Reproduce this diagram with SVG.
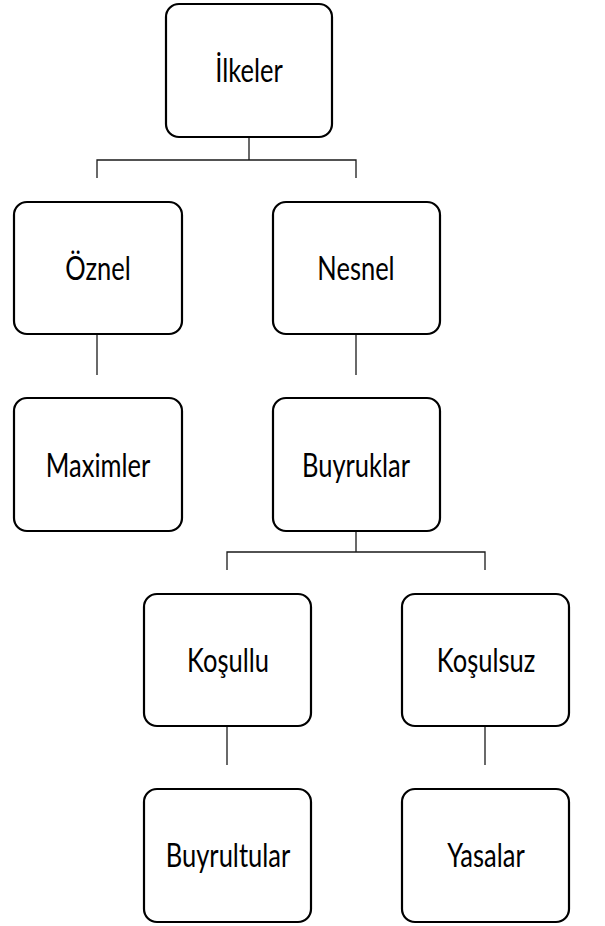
<svg xmlns="http://www.w3.org/2000/svg" width="605" height="926" viewBox="0 0 605 926">
<style>
.box{fill:#fff;stroke:#000;stroke-width:2.2}
.lbl{font-family:Lato,"Open Sans","Liberation Sans",sans-serif;font-size:25.5px;fill:#000;text-anchor:middle}
.con{fill:none;stroke:#1a1a1a;stroke-width:1.3}
</style>
<rect width="605" height="926" fill="#fff"/>
<g id="connectors">
<path class="con" d="M249 137V160M97 178V160H356V178"/>
<path class="con" d="M97 334V375"/>
<path class="con" d="M356 334V375"/>
<path class="con" d="M356 531V552M227 570V552H485V570"/>
<path class="con" d="M227 726V765"/>
<path class="con" d="M485 726V765"/>
</g>
<g id="ilkeler"><rect class="box" x="166" y="4" width="166" height="133" rx="13"/><text class="lbl" transform="translate(249 82) scale(1 1.3)">İlkeler</text></g>
<g id="oznel"><rect class="box" x="14" y="202" width="168" height="132" rx="13"/><text class="lbl" transform="translate(98 280) scale(1 1.3)">Öznel</text></g>
<g id="nesnel"><rect class="box" x="273" y="202" width="167" height="132" rx="13"/><text class="lbl" transform="translate(356 280) scale(1 1.3)">Nesnel</text></g>
<g id="maximler"><rect class="box" x="14" y="398" width="168" height="133" rx="13"/><text class="lbl" transform="translate(98 477) scale(1 1.3)">Maximler</text></g>
<g id="buyruklar"><rect class="box" x="273" y="398" width="167" height="133" rx="13"/><text class="lbl" transform="translate(356 477) scale(1 1.3)">Buyruklar</text></g>
<g id="kosullu"><rect class="box" x="144" y="594" width="167" height="132" rx="13"/><text class="lbl" transform="translate(228 672) scale(1 1.3)">Koşullu</text></g>
<g id="kosulsuz"><rect class="box" x="402" y="594" width="167" height="132" rx="13"/><text class="lbl" transform="translate(486 672) scale(1 1.3)">Koşulsuz</text></g>
<g id="buyrultular"><rect class="box" x="144" y="789" width="167" height="133" rx="13"/><text class="lbl" transform="translate(228 867) scale(1 1.3)">Buyrultular</text></g>
<g id="yasalar"><rect class="box" x="402" y="789" width="167" height="133" rx="13"/><text class="lbl" transform="translate(486 867) scale(1 1.3)">Yasalar</text></g>
</svg>
